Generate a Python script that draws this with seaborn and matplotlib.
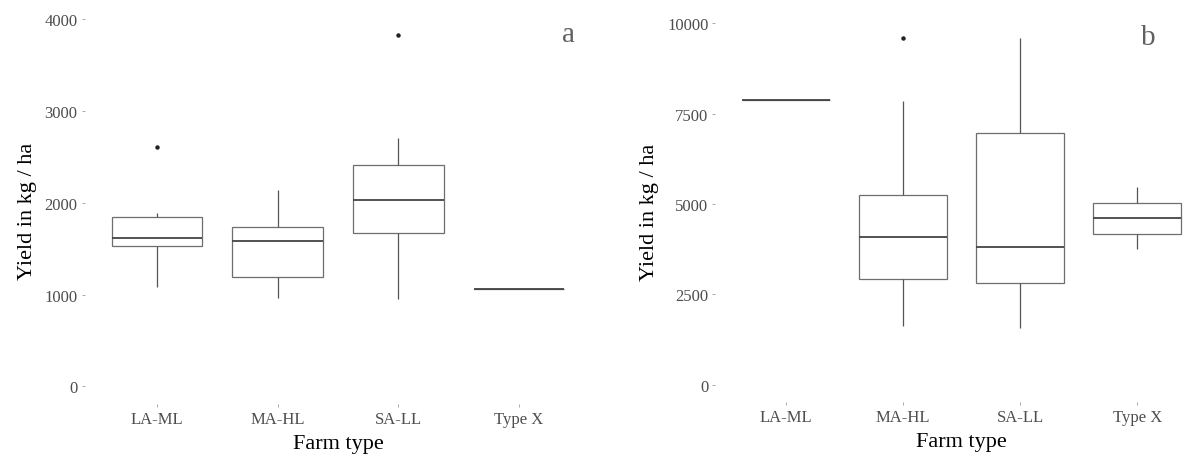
import numpy as np
import pandas as pd
import seaborn as sns
import matplotlib
matplotlib.use("Agg")
import matplotlib.pyplot as plt

# Farm types on the x axis
farm_types = ["LA-ML", "MA-HL", "SA-LL", "Type X"]

# Panel a: yield observations (kg / ha) per farm type
yield_a_laml = [1087, 1420, 1534, 1580, 1617, 1760, 1846, 1893, 2610]
yield_a_mahl = [963, 1196, 1585, 1737, 2141]
yield_a_sall = [956, 1340, 1676, 1870, 2032, 2210, 2407, 2705, 3831]
yield_a_typex = [1061]

# Panel b: yield observations (kg / ha) per farm type
yield_b_laml = [7865]
yield_b_mahl = [1632, 2400, 2931, 3500, 4093, 4700, 5254, 7837, 9588]
yield_b_sall = [1560, 2812, 3800, 6969, 9588]
yield_b_typex = [3744, 4167, 4610, 5033, 5467]

ticks_a = [0, 1000, 2000, 3000, 4000]
ticks_b = [0, 2500, 5000, 7500, 10000]


def long_frame(groups):
    rows = []
    for name, vals in zip(farm_types, groups):
        rows += [(name, v) for v in vals]
    return pd.DataFrame(rows, columns=["farm", "yield"])


df_a = long_frame([yield_a_laml, yield_a_mahl, yield_a_sall, yield_a_typex])
df_b = long_frame([yield_b_laml, yield_b_mahl, yield_b_sall, yield_b_typex])

sns.set_theme(style="white")
plt.rcParams["font.family"] = ["Liberation Serif", "DejaVu Serif"]

fig = plt.figure(figsize=(11.85, 4.56), dpi=100)
ax_a = fig.add_axes([0.0714, 0.1118, 0.4277, 0.8487])
ax_b = fig.add_axes([0.6037, 0.1162, 0.4154, 0.8360])

box_kw = dict(
    x="farm", y="yield", order=farm_types, color="white", width=0.75,
    linecolor="#6e6e6e", linewidth=0.9, showcaps=False, whis=1.5,
    medianprops=dict(color="#444444", linewidth=1.3),
    whiskerprops=dict(color="#555555", linewidth=0.9),
    flierprops=dict(marker="o", markersize=2.2, markerfacecolor="#222222",
                    markeredgecolor="#222222"),
)

for ax, df, ticks in [(ax_a, df_a, ticks_a), (ax_b, df_b, ticks_b)]:
    sns.boxplot(data=df, ax=ax, **box_kw)
    hi = df["yield"].max()
    lo = 0
    pad = (hi - lo) * 0.05
    ax.set_ylim(lo - pad, hi + pad)
    ax.set_xlim(-0.6, len(farm_types) - 0.4)
    ax.set_yticks(ticks)
    ax.set_yticklabels([str(t) for t in ticks])
    for s in ax.spines.values():
        s.set_visible(False)
    ax.tick_params(axis="both", which="both", direction="out", length=2,
                   width=0.6, color="#9a9a9a", labelsize=12,
                   labelcolor="#4d4d4d", pad=3, left=True, bottom=True)
    ax.set_xlabel("Farm type", fontsize=16, color="black", labelpad=5)
    ax.set_ylabel("Yield in kg / ha", fontsize=16, color="black", labelpad=5.5)

# Panel tags
fig.text(0.480, 0.923, "a", fontsize=21, color="#606060", ha="center", va="center")
fig.text(0.969, 0.917, "b", fontsize=21, color="#606060", ha="center", va="center")

fig.savefig("out.png", dpi=100, facecolor="white")
